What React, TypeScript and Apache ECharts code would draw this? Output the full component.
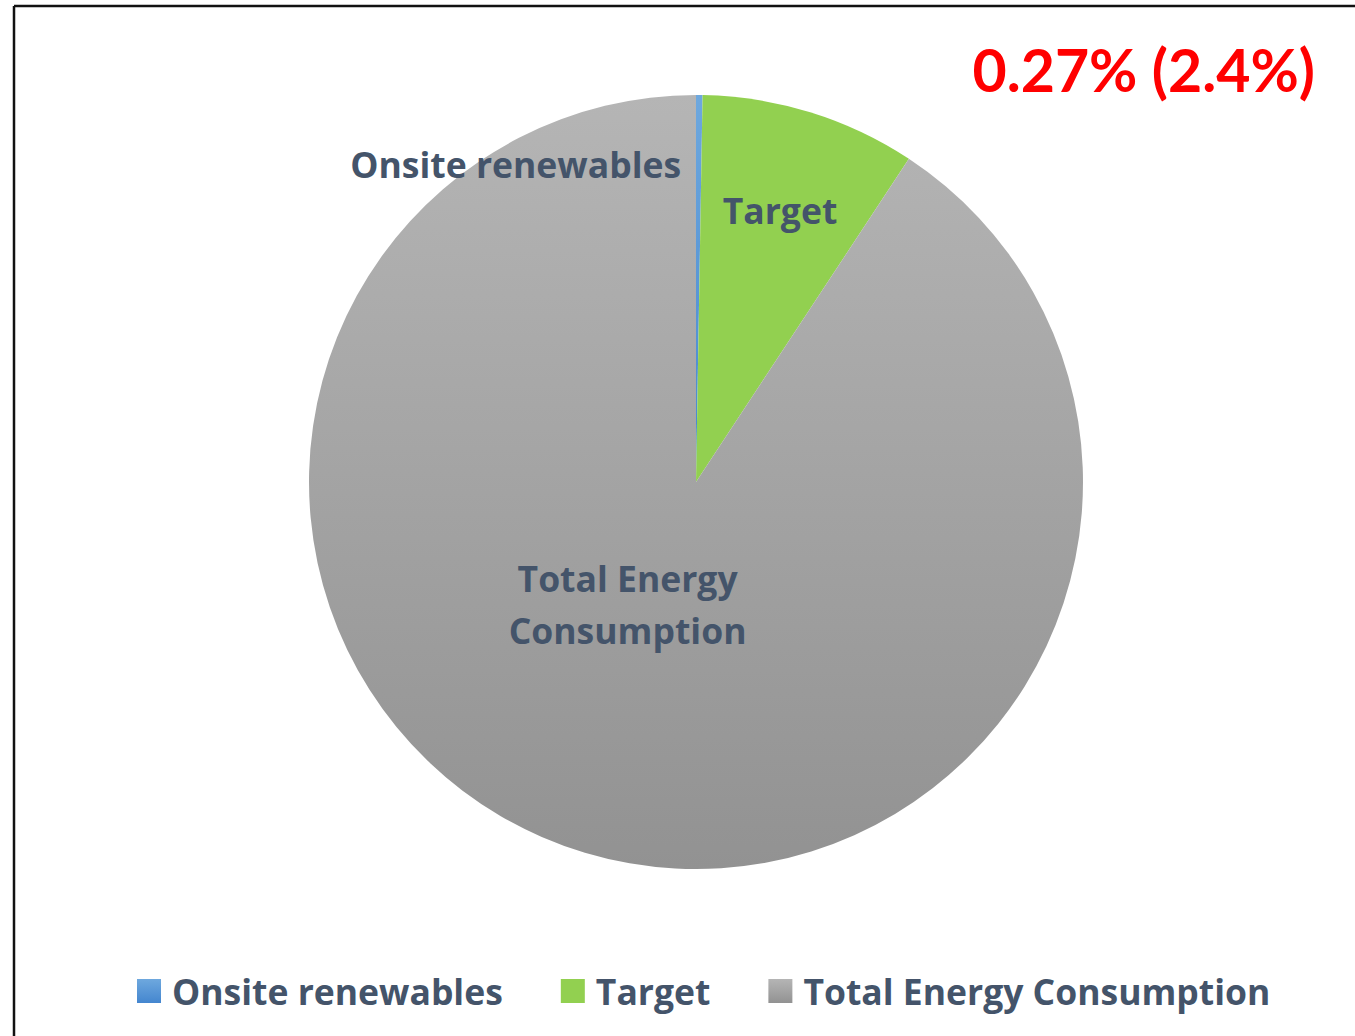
import React, { useEffect, useRef } from "react";
import * as echarts from "echarts";

const categories = ["Onsite renewables", "Target", "Total Energy Consumption"];
const values = [0.27, 9.0, 90.73];
const sliceLabels = ["Onsite renewables", "Target", "Total Energy\nConsumption"];
const headline = "0.27% (2.4%)";

const FONT = "Open Sans";
const TEXT_COLOR = "#44546a";

export default function App() {
  const ref = useRef<HTMLDivElement>(null);
  useEffect(() => {
    const chart = echarts.init(ref.current!, null, { renderer: "svg" });
    const colors = [
      new echarts.graphic.LinearGradient(0, 0, 0, 1, [
        { offset: 0, color: "#6ea8de" },
        { offset: 1, color: "#4486cf" },
      ]),
      "#92d050",
      new echarts.graphic.LinearGradient(0, 0, 0, 1, [
        { offset: 0, color: "#b5b5b5" },
        { offset: 1, color: "#929292" },
      ]),
    ];
    const labelOffsets = [
      [-182, -122],
      [26, -84],
      [-12, -66],
    ];
    chart.setOption({
      animation: false,
      backgroundColor: "#ffffff",
      graphic: [
        {
          type: "line",
          shape: { x1: 14, y1: 6, x2: 1360, y2: 6 },
          style: { stroke: "#111", lineWidth: 2.5 },
        },
        {
          type: "line",
          shape: { x1: 14, y1: 6, x2: 14, y2: 1040 },
          style: { stroke: "#111", lineWidth: 2.5 },
        },
        {
          type: "text",
          x: 1315,
          y: 69,
          style: {
            text: headline,
            fill: "#ff0000",
            font: `bold 59px Lato`,
            align: "right",
            verticalAlign: "middle",
          },
        },
      ],
      legend: {
        bottom: 22,
        left: 132,
        icon: "rect",
        itemWidth: 24,
        itemHeight: 24,
        itemGap: 58,
        data: categories,
        textStyle: {
          fontFamily: FONT,
          fontWeight: "bold",
          fontSize: 35.5,
          color: TEXT_COLOR,
          padding: [0, 0, 0, 6],
        },
      },
      series: [
        {
          type: "pie",
          center: [696, 482],
          radius: 387,
          startAngle: 90,
          clockwise: true,
          avoidLabelOverlap: false,
          itemStyle: { borderWidth: 0 },
          label: {
            show: true,
            position: "inside",
            fontFamily: FONT,
            fontWeight: "bold",
            fontSize: 35.5,
            lineHeight: 52,
            color: TEXT_COLOR,
            formatter: (p: any) => sliceLabels[p.dataIndex],
          },
          labelLayout: (p: any) => ({
            dx: labelOffsets[p.dataIndex][0],
            dy: labelOffsets[p.dataIndex][1],
          }),
          emphasis: { disabled: true },
          data: categories.map((name, i) => ({
            name,
            value: values[i],
            itemStyle: { color: colors[i] },
          })),
        },
      ],
    });
    return () => chart.dispose();
  }, []);
  return (
    <div
      ref={ref}
      style={{ position: "fixed", left: 0, top: 0, width: 1355, height: 1036 }}
    />
  );
}
